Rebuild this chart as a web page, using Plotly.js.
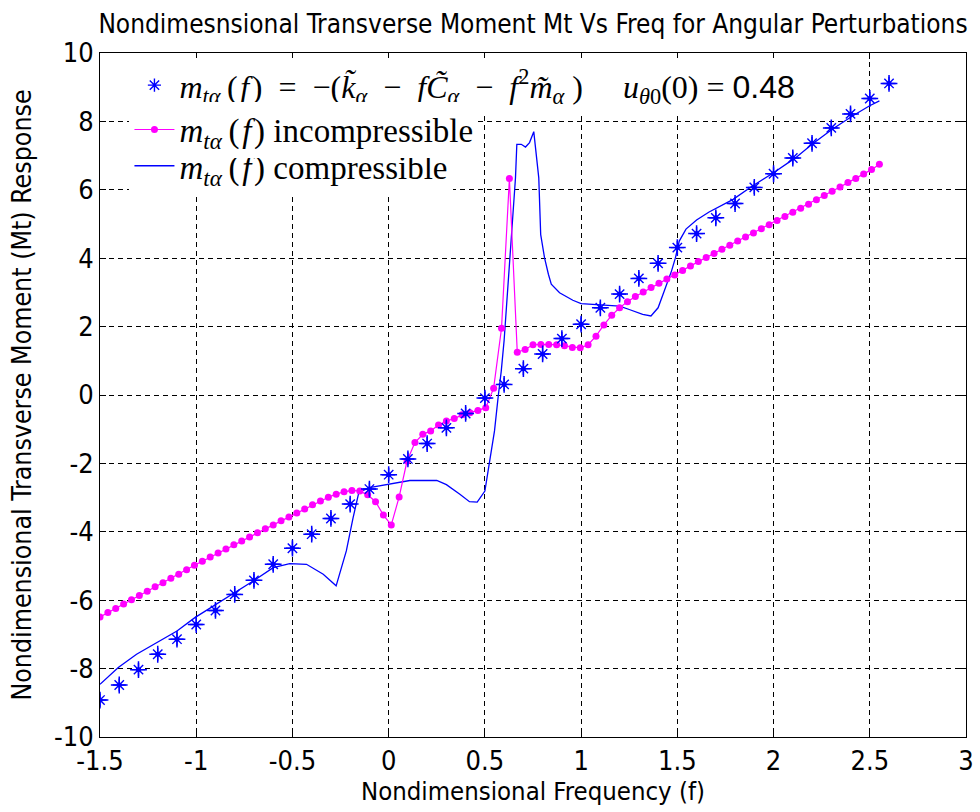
<!DOCTYPE html>
<html>
<head>
<meta charset="utf-8">
<script src="https://cdn.plot.ly/plotly-3.0.1.min.js"></script>
<style>
  html, body { margin: 0; padding: 0; background: #ffffff; }
  #chart { width: 980px; height: 812px; }
</style>
</head>
<body>
<div id="chart"></div>
<script>
// Analytic transverse moment, sampled every 0.1 in frequency
const freqStar = [-1.5, -1.4, -1.3, -1.2, -1.1, -1.0, -0.9, -0.8, -0.7, -0.6,
  -0.5, -0.4, -0.3, -0.2, -0.1, 0.0, 0.1, 0.2, 0.3, 0.4,
  0.5, 0.6, 0.7, 0.8, 0.9, 1.0, 1.1, 1.2, 1.3, 1.4,
  1.5, 1.6, 1.7, 1.8, 1.9, 2.0, 2.1, 2.2, 2.3, 2.4,
  2.5, 2.6];
const mtAnalytic = [-8.92, -8.48, -8.03, -7.58, -7.14, -6.71, -6.30, -5.83, -5.42, -4.95,
  -4.48, -4.07, -3.61, -3.19, -2.75, -2.33, -1.87, -1.42, -0.96, -0.54,
  -0.09, 0.31, 0.77, 1.20, 1.65, 2.07, 2.55, 2.95, 3.41, 3.85,
  4.31, 4.72, 5.18, 5.60, 6.07, 6.47, 6.93, 7.36, 7.81, 8.22,
  8.67, 9.11];

// Incompressible response on a 100-point frequency grid
const freqInc = [-1.5, -1.4591, -1.4182, -1.3773, -1.3364, -1.2955, -1.2545, -1.2136, -1.1727, -1.1318,
  -1.0909, -1.05, -1.0091, -0.9682, -0.9273, -0.8864, -0.8455, -0.8045, -0.7636, -0.7227,
  -0.6818, -0.6409, -0.6, -0.5591, -0.5182, -0.4773, -0.4364, -0.3955, -0.3545, -0.3136,
  -0.2727, -0.2318, -0.1909, -0.15, -0.1091, -0.0682, -0.0273, 0.0136, 0.0545, 0.0955,
  0.1364, 0.1773, 0.2182, 0.2591, 0.3, 0.3409, 0.3818, 0.4227, 0.4636, 0.5045,
  0.5455, 0.5864, 0.6273, 0.6682, 0.7091, 0.75, 0.7909, 0.8318, 0.8727, 0.9136,
  0.9545, 0.9955, 1.0364, 1.0773, 1.1182, 1.1591, 1.2, 1.2409, 1.2818, 1.3227,
  1.3636, 1.4045, 1.4455, 1.4864, 1.5273, 1.5682, 1.6091, 1.65, 1.6909, 1.7318,
  1.7727, 1.8136, 1.8545, 1.8955, 1.9364, 1.9773, 2.0182, 2.0591, 2.1, 2.1409,
  2.1818, 2.2227, 2.2636, 2.3045, 2.3455, 2.3864, 2.4273, 2.4682, 2.5091, 2.55];
const mtIncomp = [-6.49, -6.36, -6.24, -6.11, -5.99, -5.86, -5.74, -5.61, -5.49, -5.36,
  -5.24, -5.11, -4.98, -4.86, -4.74, -4.62, -4.50, -4.38, -4.27, -4.15,
  -4.03, -3.91, -3.80, -3.68, -3.57, -3.45, -3.33, -3.21, -3.10, -2.99,
  -2.90, -2.83, -2.79, -2.81, -2.92, -3.12, -3.51, -3.80, -2.98, -1.93,
  -1.39, -1.15, -1.05, -0.88, -0.76, -0.69, -0.58, -0.52, -0.45, -0.37,
  0.20, 1.95, 6.33, 1.25, 1.33, 1.47, 1.48, 1.48, 1.47, 1.44,
  1.39, 1.38, 1.47, 1.72, 2.05, 2.33, 2.55, 2.73, 2.88, 3.01,
  3.14, 3.27, 3.39, 3.51, 3.64, 3.77, 3.90, 4.02, 4.14, 4.26,
  4.38, 4.50, 4.62, 4.74, 4.86, 4.98, 5.10, 5.22, 5.34, 5.46,
  5.58, 5.71, 5.83, 5.96, 6.08, 6.21, 6.33, 6.46, 6.59, 6.75];

// Compressible response
const freqComp = [-1.5, -1.405, -1.31, -1.205, -1.1, -1.007, -0.91, -0.808, -0.704, -0.6,
  -0.514, -0.427, -0.34, -0.273, -0.22, -0.185, -0.155, -0.1, 0, 0.057,
  0.11, 0.25, 0.3, 0.37, 0.42, 0.46, 0.5, 0.52, 0.55, 0.57,
  0.585, 0.6, 0.62, 0.637, 0.645, 0.659, 0.666, 0.689, 0.711, 0.732,
  0.754, 0.766, 0.78, 0.79, 0.81, 0.83, 0.845, 0.888, 0.957, 1.0,
  1.095, 1.2, 1.25, 1.32, 1.363, 1.4, 1.432, 1.47, 1.49, 1.51,
  1.545, 1.6, 1.665, 1.72, 1.79, 1.89, 2.0, 2.115, 2.2, 2.305,
  2.41, 2.497, 2.55];
const mtComp = [-8.46, -7.97, -7.58, -7.24, -6.90, -6.51, -6.17, -5.83, -5.44, -5.05,
  -4.93, -4.95, -5.24, -5.58, -4.56, -3.59, -2.85, -2.71, -2.61, -2.54,
  -2.50, -2.50, -2.62, -2.90, -3.12, -3.13, -2.81, -2.10, -1.05, 0.0,
  0.70, 1.6, 3.24, 4.6, 5.38, 6.35, 7.33, 7.33, 7.25, 7.38,
  7.70, 7.13, 6.35, 4.69, 4.01, 3.53, 3.24, 2.99, 2.77, 2.67,
  2.63, 2.60, 2.50, 2.36, 2.31, 2.55, 3.04, 3.63, 4.01, 4.50,
  4.85, 5.12, 5.35, 5.52, 5.72, 6.11, 6.5, 6.94, 7.33, 7.77,
  8.16, 8.45, 8.6];

// Axis ticks
const xTickVals = [-1.5, -1, -0.5, 0, 0.5, 1, 1.5, 2, 2.5, 3];
const xTickText = ['-1.5', '-1', '-0.5', '0', '0.5', '1', '1.5', '2', '2.5', '3'];
const yTickVals = [-10, -8, -6, -4, -2, 0, 2, 4, 6, 8, 10];
const yTickText = ['-10', '-8', '-6', '-4', '-2', '0', '2', '4', '6', '8', '10'];

const sansNarrow = "'Liberation Sans Narrow', 'Arial Narrow', 'DejaVu Sans Condensed', sans-serif";
const serif = "'Liberation Serif', 'Times New Roman', serif";

const BLUE = '#0000FF';
const MAGENTA = '#FF00FF';

const nb = '\u00A0';
const thin = '\u2009';
const hair = '\u200A';
// m_tα(f), spaced out a little like typeset math
const mta = '<i>m</i><sub><i>tα</i></sub>' + thin + '(' + hair + '<i>f</i>' + hair + ')';
const minus = nb + nb + '−' + nb + nb;
const nameAnalytic = mta + nb + nb + '=' + nb + nb + '−(<i>k\u0303</i><sub><i>α</i></sub>' + minus +
  '<i>f</i><i>C\u0303</i><sub><i>α</i></sub>' + minus + '<i>f</i><sup>2</sup><i>m\u0303</i><sub><i>α</i></sub>' + nb + ')' +
  nb + nb + nb + nb + nb + '<i>u</i><sub><i>θ</i>0</sub>(0) = <span style="font-family:Liberation Sans">0.48</span>';

const traces = [
  {
    x: freqComp, y: mtComp, type: 'scatter', mode: 'lines',
    name: mta + ' compressible', legend: 'legend2',
    line: { color: BLUE, width: 1.3 }
  },
  {
    x: freqInc, y: mtIncomp, type: 'scatter', mode: 'lines+markers',
    name: mta + ' incompressible', legend: 'legend3',
    line: { color: MAGENTA, width: 1.2 },
    marker: { symbol: 'circle', size: 7, color: MAGENTA }
  },
  {
    x: freqStar, y: mtAnalytic, type: 'scatter', mode: 'markers',
    showlegend: false, hoverinfo: 'skip',
    marker: { symbol: 'cross-thin-open', size: 12, color: BLUE, line: { color: BLUE, width: 1.5 } }
  },
  {
    x: freqStar, y: mtAnalytic, type: 'scatter', mode: 'markers',
    showlegend: false, hoverinfo: 'skip',
    marker: { symbol: 'circle', size: 5, color: BLUE }
  },
  {
    x: freqStar, y: mtAnalytic, type: 'scatter', mode: 'markers',
    name: nameAnalytic, legend: 'legend',
    marker: { symbol: 'asterisk-open', size: 11, color: BLUE, line: { color: BLUE, width: 1.4 } }
  }
];

const axisCommon = {
  ticks: 'inside', ticklen: 6, tickwidth: 1, tickcolor: '#000',
  showline: true, linecolor: '#000', linewidth: 1, mirror: 'allticks',
  showgrid: true, gridcolor: '#000', gridwidth: 1, griddash: '5px,4px',
  zeroline: false,
  tickfont: { family: sansNarrow, size: 27, color: '#000' }
};

const legendCommon = {
  xanchor: 'left', yanchor: 'top', bgcolor: '#ffffff', borderwidth: 0, itemwidth: 40
};

const layout = {
  width: 980, height: 812,
  paper_bgcolor: '#ffffff', plot_bgcolor: '#ffffff',
  margin: { l: 100, r: 14, t: 53, b: 75 },
  title: {
    text: 'Nondimesnsional Transverse Moment Mt Vs Freq for Angular Perturbations',
    font: { family: sansNarrow, size: 26, color: '#000' },
    x: 0.5, xref: 'paper', xanchor: 'center',
    y: 0.982, yref: 'container', yanchor: 'top'
  },
  xaxis: Object.assign({}, axisCommon, {
    range: [-1.5, 3], tickvals: xTickVals, ticktext: xTickText,
    title: { text: 'Nondimensional Frequency (f)', font: { family: sansNarrow, size: 25.5, color: '#000' }, standoff: 0 }
  }),
  yaxis: Object.assign({}, axisCommon, {
    range: [-10, 10], tickvals: yTickVals, ticktext: yTickText,
    title: { text: 'Nondimensional Transverse Moment (Mt) Response', font: { family: sansNarrow, size: 26.5, color: '#000' }, standoff: 14 }
  }),
  showlegend: true,
  legend: Object.assign({}, legendCommon, {
    x: 0.034, y: 0.993,
    font: { family: serif, size: 32, color: '#000' }
  }),
  legend2: Object.assign({}, legendCommon, {
    x: 0.034, y: 0.876,
    font: { family: serif, size: 33, color: '#000' }
  }),
  legend3: Object.assign({}, legendCommon, {
    x: 0.034, y: 0.929,
    font: { family: serif, size: 33, color: '#000' }
  })
};

Plotly.newPlot('chart', traces, layout, { displayModeBar: false, staticPlot: true });
</script>
</body>
</html>
